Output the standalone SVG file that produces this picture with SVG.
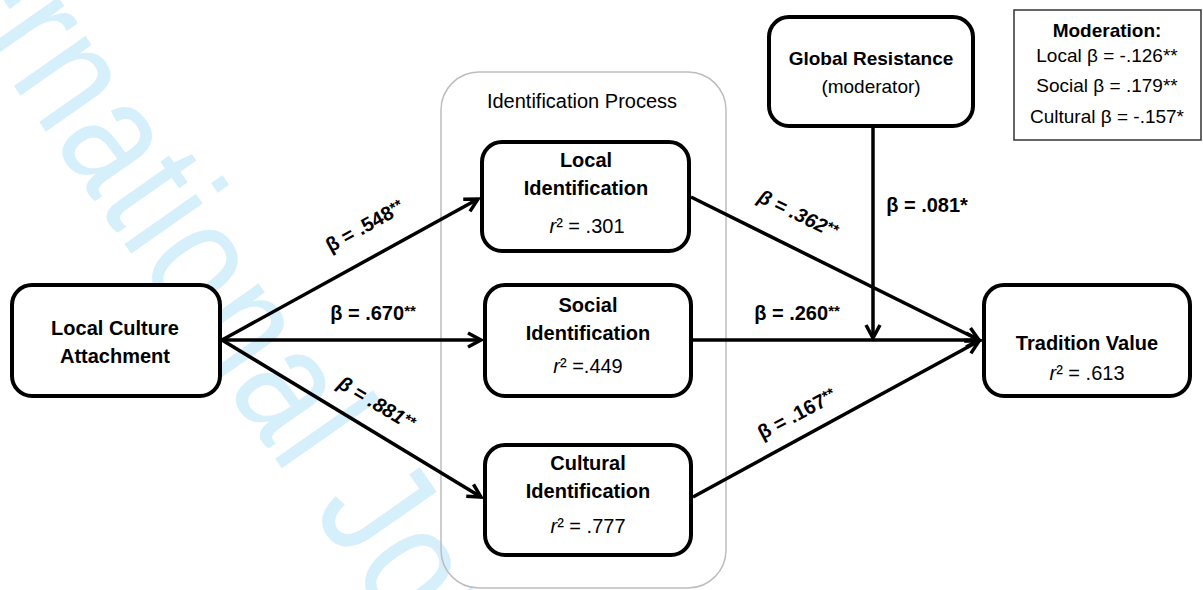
<svg xmlns="http://www.w3.org/2000/svg" width="1203" height="590" viewBox="0 0 1203 590">
<style>
.wm{font-family:"Liberation Sans",Arial,sans-serif;font-size:165px;fill:#d5effb;letter-spacing:4px}
.box{fill:#fff;stroke:#000;stroke-width:4}
.b{font-family:"Liberation Sans",Arial,sans-serif;font-size:20px;font-weight:bold;fill:#000;text-anchor:middle}
.r{font-family:"Liberation Sans",Arial,sans-serif;font-size:20px;fill:#000;text-anchor:middle}
.lbl{font-family:"Liberation Sans",Arial,sans-serif;font-size:20px;font-weight:bold;fill:#000;text-anchor:middle}
.edge{fill:none;stroke:#000;stroke-width:3.5}
.sup{font-size:15px}
</style>
<defs>
<marker id="ah" markerUnits="userSpaceOnUse" markerWidth="24" markerHeight="24" viewBox="-16 -12 24 24" refX="0" refY="0" orient="auto">
<path d="M-13,-7 L0,0 L-13,7" fill="none" stroke="#000" stroke-width="3.5"/>
</marker>
</defs>
<rect width="1203" height="590" fill="#fff"/>
<text class="wm" transform="translate(-152,-151) rotate(55) scale(0.8,1)">International Journal</text>

<g id="container">
<rect x="441" y="72" width="285" height="516" rx="38" fill="none" stroke="#bdbdbd" stroke-width="1.5"/>
<text class="r" x="582" y="108">Identification Process</text>
</g>

<g id="connectors">
<path class="edge" d="M222,340 L478,199" marker-end="url(#ah)"/>
<path class="edge" d="M222,340 L481,340" marker-end="url(#ah)"/>
<path class="edge" d="M222,340 L481,497" marker-end="url(#ah)"/>
<path class="edge" d="M691,197 L979,340" marker-end="url(#ah)"/>
<path class="edge" d="M693,340 L979,340" marker-end="url(#ah)"/>
<path class="edge" d="M693,497 L979,341" marker-end="url(#ah)"/>
<path class="edge" d="M873,128 L873,338" marker-end="url(#ah)"/>
<text class="lbl" transform="translate(368,232) rotate(-29)">β = .548<tspan class="sup" dy="-4">**</tspan></text>
<text class="lbl" x="373" y="320">β = .670<tspan class="sup" dy="-4">**</tspan></text>
<text class="lbl" font-style="italic" transform="translate(373,409) rotate(31)">β = .881<tspan class="sup" dy="-4">**</tspan></text>
<text class="lbl" font-style="italic" transform="translate(795,220) rotate(26)">β = .362<tspan class="sup" dy="-4">**</tspan></text>
<text class="lbl" x="797" y="320">β = .260<tspan class="sup" dy="-4">**</tspan></text>
<text class="lbl" x="927" y="212">β = .081*</text>
<text class="lbl" transform="translate(800,420) rotate(-28)">β = .167<tspan class="sup" dy="-4">**</tspan></text>
</g>

<g id="local-culture-attachment">
<rect class="box" x="12" y="285" width="208" height="111" rx="20"/>
<text class="b" x="115" y="335">Local Culture</text>
<text class="b" x="115" y="363">Attachment</text>
</g>

<g id="local-identification">
<rect class="box" x="482" y="142" width="207" height="109" rx="20"/>
<text class="b" x="586" y="167">Local</text>
<text class="b" x="586" y="195">Identification</text>
<text class="r" x="587" y="233"><tspan font-style="italic">r</tspan>² = .301</text>
</g>

<g id="social-identification">
<rect class="box" x="485" y="285" width="206" height="111" rx="20"/>
<text class="b" x="588" y="312">Social</text>
<text class="b" x="588" y="340">Identification</text>
<text class="r" x="588" y="373"><tspan font-style="italic">r</tspan>² =.449</text>
</g>

<g id="cultural-identification">
<rect class="box" x="485" y="445" width="206" height="110" rx="20"/>
<text class="b" x="588" y="470">Cultural</text>
<text class="b" x="588" y="498">Identification</text>
<text class="r" x="588" y="533"><tspan font-style="italic">r</tspan>² = .777</text>
</g>

<g id="tradition-value">
<rect class="box" x="984" y="285" width="206" height="111" rx="20"/>
<text class="b" x="1087" y="350">Tradition Value</text>
<text class="r" x="1087" y="380"><tspan font-style="italic">r</tspan>² = .613</text>
</g>

<g id="global-resistance">
<rect class="box" x="769" y="17" width="204" height="109" rx="20"/>
<text class="b" x="871" y="65" style="font-size:19px">Global Resistance</text>
<text class="r" x="871" y="93" style="font-size:19px">(moderator)</text>
</g>

<g id="moderation">
<rect x="1014" y="10" width="187" height="130" fill="#fff" stroke="#333" stroke-width="1.5"/>
<text class="b" x="1107" y="37" style="font-size:19px">Moderation:</text>
<text class="r" x="1107" y="62" style="font-size:19px">Local β = -.126**</text>
<text class="r" x="1107" y="92" style="font-size:19px">Social β = .179**</text>
<text class="r" x="1107" y="123" style="font-size:19px">Cultural β = -.157*</text>
</g>
</svg>
